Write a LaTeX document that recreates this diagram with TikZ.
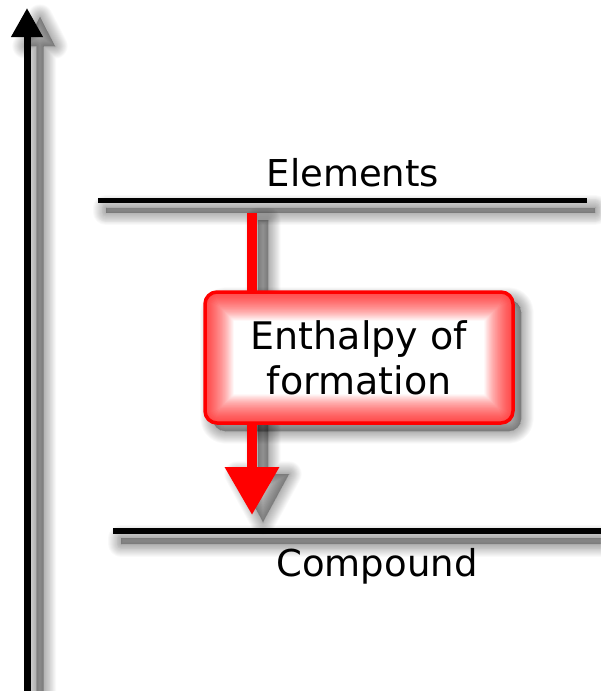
\documentclass[tikz,border=0pt]{standalone}
\usepackage{fontspec}
\setmainfont{DejaVu Sans}
\usetikzlibrary{arrows.meta}
\newcommand\softshade[1]{\foreach \k in {0,...,14}{\path[fill=black,fill opacity=0.018,draw=black,draw opacity=0.022,line width=\k*1.8pt,line join=round] #1;}}
\tikzset{
  lbl/.style={font=\fontsize{37}{44}\selectfont, inner sep=0pt, text=black},
  level/.style={draw=black, line width=5pt},
  glowbox/.style={draw=red, line width=3.5pt, fill=white, rounded corners=12pt,
    minimum width=308pt, minimum height=131pt, inner sep=0pt, align=center,
    font=\fontsize{38}{45}\selectfont,
    path picture={\foreach \k in {1,...,26}{\draw[red, opacity=0.045, line width=\k*2.2pt, rounded corners=14pt] (path picture bounding box.south west) rectangle (path picture bounding box.north east);}}}
}
\begin{document}
\begin{tikzpicture}[x=1pt,y=-1pt]
\useasboundingbox[fill=white] (0,0) rectangle (600,691);
% shadows
\softshade{(36.5,700) -- (36.5,46) -- (25,46) -- (40,17) -- (55,46) -- (43.5,46) -- (43.5,700) -- cycle}
\softshade{(106,207.5) rectangle (595,212.5)}
\softshade{(121,538) rectangle (612,544)}
\softshade{(258,220) -- (258,474) -- (237,474) -- (263,522) -- (289,474) -- (268,474) -- (268,220) -- cycle}
\softshade{(213,300) [rounded corners=12pt] rectangle (521,431)}
% coordinates
\coordinate (axb) at (27,700);
\coordinate (axt) at (27,8);
\coordinate (e1) at (98,200);
\coordinate (e2) at (587,200);
\coordinate (c1) at (113,531);
\coordinate (c2) at (610,531);
\coordinate (r1) at (252,213);
\coordinate (r2) at (252,515);
% axis
\draw[line width=7pt, -{Triangle[length=29pt,width=30pt]}] (axb) -- (axt);
% levels
\draw[level] (e1) -- (e2);
\draw[level, line width=6pt] (c1) -- (c2);
\node[lbl, anchor=base] (elab) at (353,186) {Elements};
\node[lbl, anchor=base] (clab) at (377,576) {Compound};
% red arrow
\draw[red, line width=10pt, -{Triangle[length=48pt,width=52pt]}] (r1) -- (r2);
% box
\node[glowbox] (bx) at (359,357.5) {Enthalpy of\\formation};
\end{tikzpicture}
\end{document}
